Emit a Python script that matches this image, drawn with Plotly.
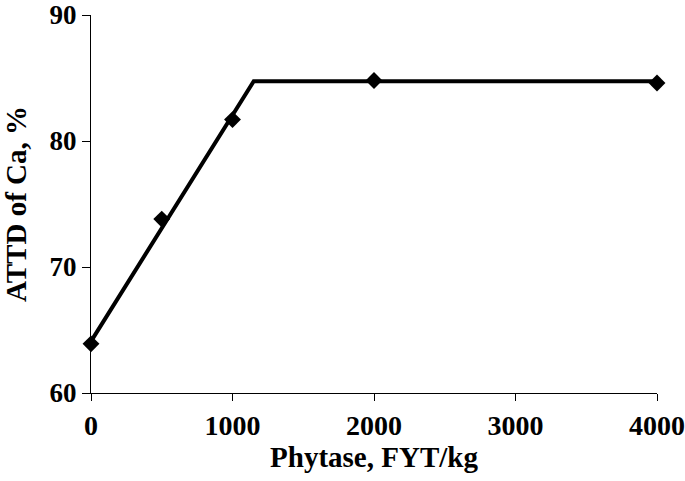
import plotly.graph_objects as go

phytase = [0, 500, 1000, 2000, 4000]
attd_ca = [63.9, 73.8, 81.7, 84.8, 84.6]

fit_x = [0, 1150, 4000]
fit_y = [64.1, 84.75, 84.75]

x_ticks = [0, 1000, 2000, 3000, 4000]
y_ticks = [60, 70, 80, 90]

font_family = "Liberation Serif, Times New Roman, serif"

fig = go.Figure()
fig.add_trace(go.Scatter(x=fit_x, y=fit_y, mode="lines",
                         line=dict(color="black", width=4),
                         showlegend=False, cliponaxis=False, hoverinfo="skip"))
fig.add_trace(go.Scatter(x=phytase, y=attd_ca, mode="markers",
                         marker=dict(symbol="diamond", size=13, color="black",
                                     line=dict(width=0)),
                         showlegend=False, cliponaxis=False))

fig.update_layout(
    width=685, height=481,
    margin=dict(l=91, r=28, t=15, b=88),
    paper_bgcolor="white", plot_bgcolor="white",
    font=dict(family=font_family, color="black", size=27),
    xaxis=dict(range=[0, 4000], tickvals=x_ticks, ticktext=[str(v) for v in x_ticks],
               showline=True, linecolor="black", linewidth=1, mirror=False,
               ticks="outside", ticklen=7, tickcolor="black", tickwidth=1,
               showgrid=False, zeroline=False, automargin=False,
               tickfont=dict(family=font_family, size=28, color="black", weight="bold"),
               title=dict(text="<b>Phytase, FYT/kg</b>", standoff=6,
                          font=dict(family=font_family, size=29, color="black"))),
    yaxis=dict(range=[60, 90], tickvals=y_ticks, ticktext=[str(v) for v in y_ticks],
               showline=True, linecolor="black", linewidth=1, mirror=False,
               ticks="outside", ticklen=8, tickcolor="black", tickwidth=1,
               showgrid=False, zeroline=False, automargin=False,
               tickfont=dict(family=font_family, size=27, color="black", weight="bold"),
               title=dict(text="<b>ATTD of Ca, %</b>", standoff=18,
                          font=dict(family=font_family, size=29, color="black"))),
)

fig.write_html("out.html", config={"displayModeBar": False},
               post_script="document.body.style.margin='0';document.body.style.overflow='hidden';")
